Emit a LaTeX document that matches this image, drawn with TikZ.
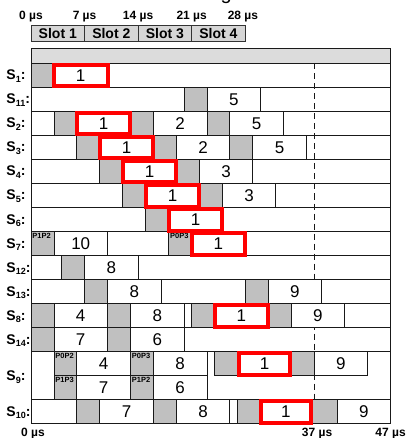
\documentclass[tikz,border=0pt]{standalone}
\usepackage{fontspec}
\setmainfont{Liberation Sans}
\definecolor{cgrey}{HTML}{C0C0C0}
\definecolor{hgrey}{HTML}{DCDCDC}
\definecolor{sgrey}{HTML}{D6D6D6}
\definecolor{pred}{HTML}{FF0000}
\newcommand\mysub[1]{\raisebox{-2.5pt}{\fontsize{9}{9}\selectfont #1}}
\newcommand\gbx[3]{\pgfmathsetmacro\myBot{#3+24}\draw[gcell] (#1,#3) rectangle (#2,\myBot);}
\newcommand\gbxp[5]{\pgfmathsetmacro\myBot{#4+24}\draw[gcell] (#2,#4) rectangle (#3,\myBot);
  \node[plbl] (#1) at (#2,#4) {#5};}
\newcommand\wbx[5]{\pgfmathsetmacro\myBot{#4+24}\pgfmathsetmacro\myXm{(#2+#3)/2}\pgfmathsetmacro\myYm{#4+12}%
  \draw[wcell] (#2,#4) rectangle (#3,\myBot);
  \node[num] (#1) at (\myXm,\myYm) {#5};}
\newcommand\rbx[4]{\pgfmathsetmacro\myTop{#4+1.2}\pgfmathsetmacro\myBot{#4+23}\pgfmathsetmacro\myXm{(#2+#3)/2}\pgfmathsetmacro\myYm{#4+12}%
  \draw[rcell] (#2,\myTop) rectangle (#3,\myBot);
  \node[num] (#1) at (\myXm,\myYm) {1};}
\begin{document}
\begin{tikzpicture}[x=7.65pt,y=-1pt,
  frame/.style={draw=black!90,line width=0.9pt},
  gcell/.style={draw=black!90,fill=cgrey,line width=0.9pt},
  wcell/.style={draw=black!90,fill=white,line width=0.9pt},
  rcell/.style={draw=pred,fill=white,line width=4pt},
  num/.style={font=\fontsize{17}{17}\selectfont, inner sep=0pt},
  plbl/.style={font=\bfseries\fontsize{7.5}{7.5}\selectfont, inner sep=1.2pt, anchor=north west},
  slbl/.style={font=\bfseries\fontsize{14}{14}\selectfont, inner sep=0pt, anchor=base west},
  tlbl/.style={font=\bfseries\fontsize{12}{12}\selectfont, inner sep=0pt, anchor=base},
  slot/.style={draw=black!80, fill=sgrey, line width=0.9pt},
  sltxt/.style={font=\bfseries\fontsize{14}{14}\selectfont, inner sep=0pt},
  dashln/.style={draw=black!90,line width=0.9pt,dash pattern=on 6pt off 4pt}]
\useasboundingbox (-4.0523,0) rectangle (49.0196,438);
% cut-off title glyph
\node[anchor=base west, inner sep=0pt, font=\fontsize{20}{20}\selectfont] (ttl) at (24.75,-0.2) {g};
% top time labels
\node[tlbl] (t0) at (0,20) {0 µs};
\node[tlbl] (t7) at (7,20) {7 µs};
\node[tlbl] (t14) at (14,20) {14 µs};
\node[tlbl] (t21) at (21,20) {21 µs};
\node[tlbl] (t28) at (27.7,20) {28 µs};
% slots
\draw[slot] (0,25) rectangle (7,41.7);
\draw[slot] (7,25) rectangle (14,41.7);
\draw[slot] (14,25) rectangle (21,41.7);
\draw[slot] (21,25) rectangle (28,41.7);
\node[sltxt] (sl1) at (3.5,33.3) {Slot 1};
\node[sltxt] (sl2) at (10.5,33.3) {Slot 2};
\node[sltxt] (sl3) at (17.5,33.3) {Slot 3};
\node[sltxt] (sl4) at (24.5,33.3) {Slot 4};
% header bar
\draw[frame, fill=hgrey] (0,48) rectangle (47,63.5);
% row frames
\foreach \tp in {63.5,87.5,111.5,135.5,159.5,183.5,207.5,231.5,255.5,279.5,303.5,327.5,399.5}{%
  \pgfmathsetmacro\myB{\tp+24}\draw[frame] (0,\tp) rectangle (47,\myB);}
\draw[frame] (0,351.5) rectangle (47,399.5);
% dashed line
\draw[dashln] (37,63.5) -- (37,399.5);
% row labels
\node[slbl] (l1) at (-3.23,80) {S\mysub{1}:};
\node[slbl] (l11) at (-3.23,104) {S\mysub{11}:};
\node[slbl] (l2) at (-3.23,128) {S\mysub{2}:};
\node[slbl] (l3) at (-3.23,152) {S\mysub{3}:};
\node[slbl] (l4) at (-3.23,176) {S\mysub{4}:};
\node[slbl] (l5) at (-3.23,200) {S\mysub{5}:};
\node[slbl] (l6) at (-3.23,224) {S\mysub{6}:};
\node[slbl] (l7) at (-3.23,248) {S\mysub{7}:};
\node[slbl] (l12) at (-3.23,272) {S\mysub{12}:};
\node[slbl] (l13) at (-3.23,296) {S\mysub{13}:};
\node[slbl] (l8) at (-3.23,320) {S\mysub{8}:};
\node[slbl] (l14) at (-3.23,344) {S\mysub{14}:};
\node[slbl] (l9) at (-3.23,380.5) {S\mysub{9}:};
\node[slbl] (l10) at (-3.23,416) {S\mysub{10}:};
% row 1 S1
\gbx{0}{3}{63.5}
% row 2 S11
\gbx{20}{23}{87.5} \wbx{w2a}{23}{30}{87.5}{5}
% row 3 S2
\gbx{3}{6}{111.5} \gbx{13}{16}{111.5} \wbx{w3a}{16}{23}{111.5}{2} \gbx{23}{26}{111.5} \wbx{w3b}{26}{33}{111.5}{5}
% row 4 S3
\gbx{6}{9}{135.5} \gbx{16}{19}{135.5} \wbx{w4a}{19}{26}{135.5}{2} \gbx{26}{29}{135.5} \wbx{w4b}{29}{36}{135.5}{5}
% row 5 S4
\gbx{9}{12}{159.5} \gbx{19}{22}{159.5} \wbx{w5a}{22}{29}{159.5}{3}
% row 6 S5
\gbx{12}{15}{183.5} \gbx{22}{25}{183.5} \wbx{w6a}{25}{32}{183.5}{3}
% row 7 S6
\gbx{15}{18}{207.5}
% row 8 S7
\gbxp{p8a}{0}{3}{231.5}{P1P2} \wbx{w8a}{3}{10}{231.5}{10} \gbxp{p8b}{18}{21}{231.5}{P0P3}
% row 9 S12
\gbx{4}{7}{255.5} \wbx{w9a}{7}{14}{255.5}{8}
% row 10 S13
\gbx{7}{10}{279.5} \wbx{w10a}{10}{17}{279.5}{8} \gbx{28}{31}{279.5} \wbx{w10b}{31}{38}{279.5}{9}
% row 11 S8
\gbx{0}{3}{303.5} \wbx{w11a}{3}{10}{303.5}{4} \gbx{10}{13}{303.5} \wbx{w11b}{13}{20}{303.5}{8}
\gbx{21}{24}{303.5} \gbx{31}{34}{303.5} \wbx{w11c}{34}{41}{303.5}{9}
% row 12 S14
\gbx{0}{3}{327.5} \wbx{w12a}{3}{10}{327.5}{7} \gbx{10}{13}{327.5} \wbx{w12b}{13}{20}{327.5}{6}
% row 13 S9 top
\gbxp{p13a}{3}{6}{351.5}{P0P2} \wbx{w13a}{6}{13}{351.5}{4} \gbxp{p13b}{13}{16}{351.5}{P0P3} \wbx{w13b}{16}{23}{351.5}{8}
\gbx{24}{27.2}{351.5} \gbx{33.9}{37}{351.5} \wbx{w13c}{37}{44}{351.5}{9}
% row 13 S9 bottom
\gbxp{p13c}{3}{6}{375.5}{P1P3} \wbx{w13d}{6}{13}{375.5}{7} \gbxp{p13d}{13}{16}{375.5}{P1P2} \wbx{w13e}{16}{23}{375.5}{6}
% row 14 S10
\gbx{6}{9}{399.5} \wbx{w14a}{9}{16}{399.5}{7} \gbx{16}{19}{399.5} \wbx{w14b}{19}{26}{399.5}{8}
\gbx{27}{30}{399.5} \gbx{36.6}{40}{399.5} \wbx{w14c}{40}{47}{399.5}{9}
% red boxes
\rbx{r1}{3}{10}{63.5}
\rbx{r3}{6}{13}{111.5}
\rbx{r4}{9}{16}{135.5}
\rbx{r5}{12}{19}{159.5}
\rbx{r6}{15}{22}{183.5}
\rbx{r7}{18}{25}{207.5}
\rbx{r8}{21}{28}{231.5}
\rbx{r11}{24}{31}{303.5}
\rbx{r13}{27.2}{33.9}{351.5}
\rbx{r14}{30}{36.6}{399.5}
% bottom time labels
\node[tlbl] (b0) at (0.26,436.5) {0 µs};
\node[tlbl] (b37) at (37.4,436.5) {37 µs};
\node[tlbl] (b47) at (47,436.5) {47 µs};
\end{tikzpicture}
\end{document}
